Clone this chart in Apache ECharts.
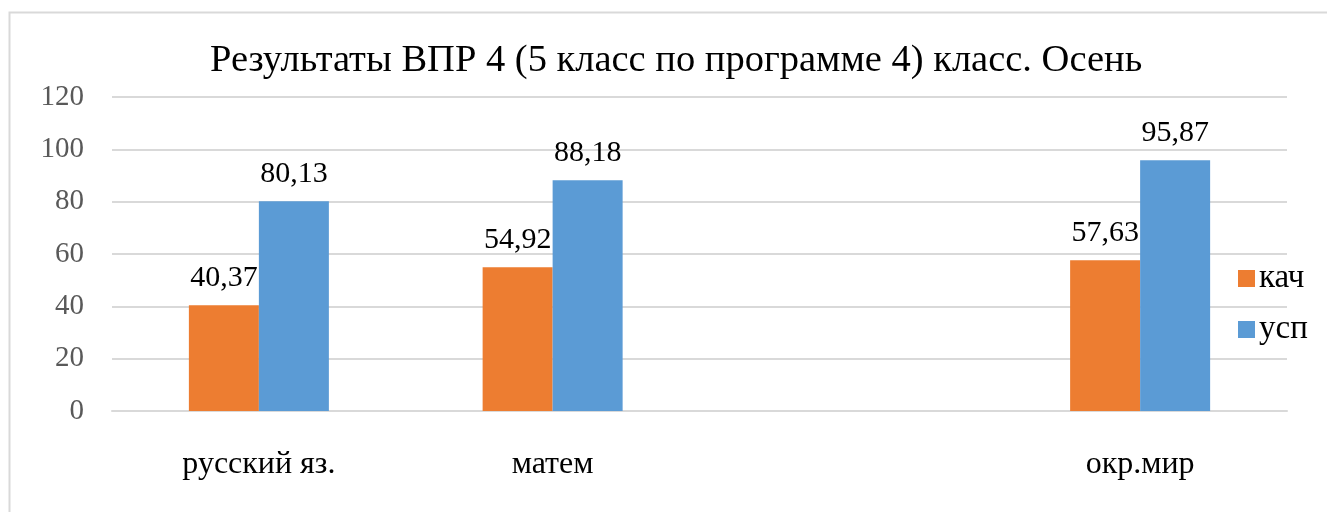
<!DOCTYPE html>
<html>
<head>
<meta charset="utf-8">
<script src="https://cdn.jsdelivr.net/npm/echarts@6/dist/echarts.min.js"></script>
<style>
    html, body { margin: 0; padding: 0; background: #fff; }
    #chart { width: 1327px; height: 512px; }
</style>
</head>
<body>
<div id="chart"></div>
<script>
    const categories = ['русский яз.', 'матем', '', 'окр.мир'];
    const kach = [40.37, 54.92, null, 57.63];
    const usp = [80.13, 88.18, null, 95.87];
    const yTicks = [0, 20, 40, 60, 80, 100, 120];

    const serif = '"Liberation Serif", "DejaVu Serif", serif';
    const fmt = p => p.value == null ? '' : String(p.value.toFixed(2)).replace('.', ',');

    const myChart = echarts.init(document.getElementById('chart'), null, { renderer: 'canvas' });
    const option = {
        animation: false,
        backgroundColor: '#fff',
        graphic: [{
            type: 'rect',
            left: 7, top: 10,
            shape: { width: 1340, height: 520 },
            style: { fill: 'none', stroke: '#d9d9d9', lineWidth: 2 },
            silent: true
        }],
        title: {
            text: 'Результаты ВПР 4 (5 класс по программе 4) класс. Осень',
            left: 205,
            top: 36,
            textStyle: { fontFamily: serif, fontSize: 38.5, fontWeight: 'normal', color: '#000' }
        },
        legend: {
            orient: 'vertical',
            left: 1233,
            top: 257,
            itemWidth: 17,
            itemHeight: 17,
            itemGap: 18,
            icon: 'rect',
            textStyle: { fontFamily: serif, fontSize: 33, color: '#000', padding: [0, 0, 0, -1] },
            data: ['кач', 'усп']
        },
        grid: { left: 112, right: 40, top: 97, bottom: 101 },
        xAxis: {
            type: 'category',
            data: categories,
            axisTick: { show: false },
            axisLine: { lineStyle: { color: '#d9d9d9', width: 2 } },
            axisLabel: { fontFamily: serif, fontSize: 32, color: '#000', margin: 38, interval: 0 }
        },
        yAxis: {
            type: 'value',
            min: yTicks[0],
            max: yTicks[yTicks.length - 1],
            interval: 20,
            axisLine: { show: false },
            axisTick: { show: false },
            axisLabel: { fontFamily: serif, fontSize: 29, color: '#595959', margin: 28, align: 'right' },
            splitLine: { lineStyle: { color: '#d9d9d9', width: 2 } }
        },
        series: [
            {
                name: 'кач',
                type: 'bar',
                data: kach,
                barWidth: 70,
                barGap: '0%',
                itemStyle: { color: '#ed7d31' },
                label: { show: true, position: 'top', distance: 12, formatter: fmt,
                    fontFamily: serif, fontSize: 30, color: '#000' }
            },
            {
                name: 'усп',
                type: 'bar',
                data: usp,
                barWidth: 70,
                barGap: '0%',
                itemStyle: { color: '#5b9bd5' },
                label: { show: true, position: 'top', distance: 12, formatter: fmt,
                    fontFamily: serif, fontSize: 30, color: '#000' }
            }
        ]
    };
    myChart.setOption(option);
</script>
</body>
</html>
